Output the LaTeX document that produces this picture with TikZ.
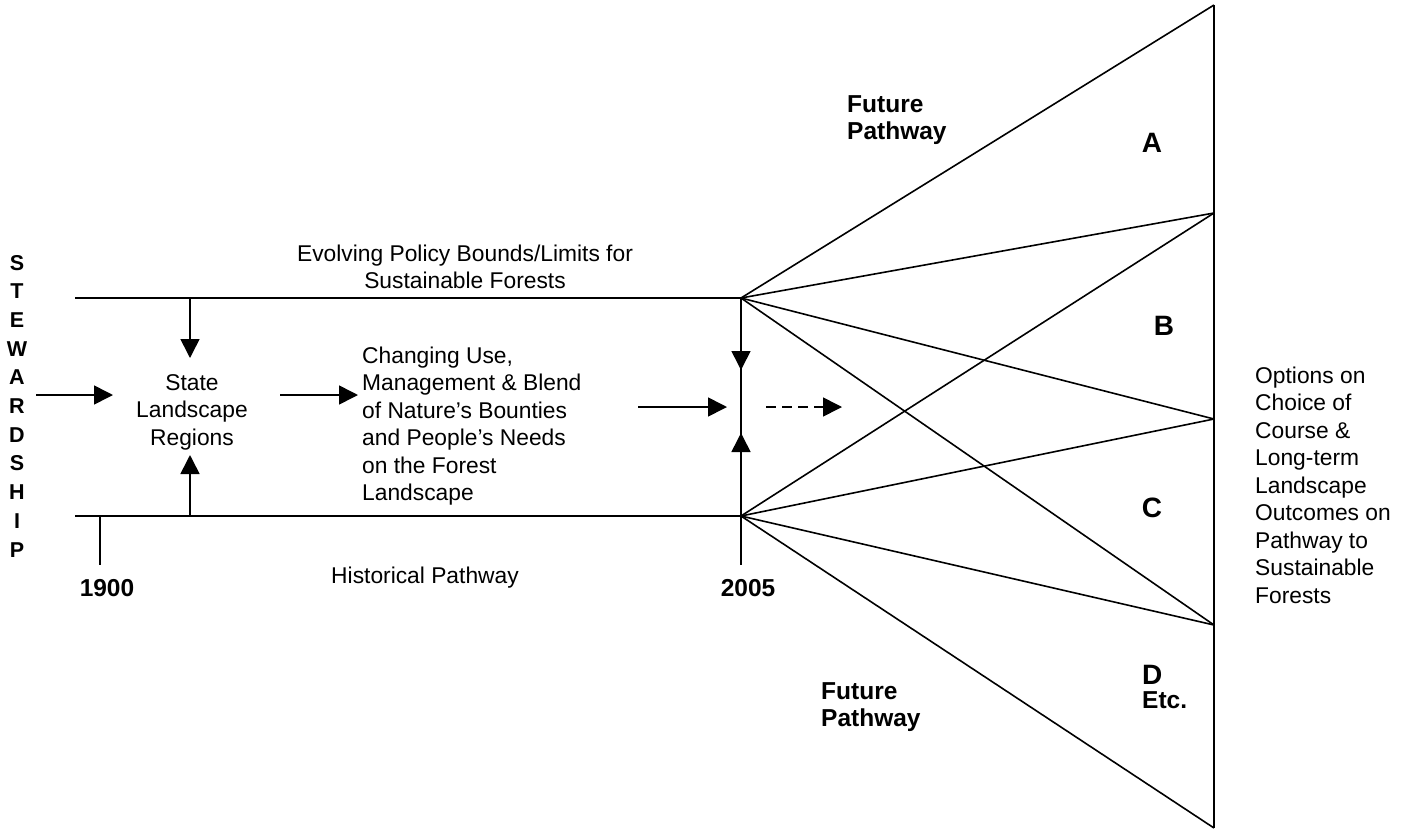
\documentclass[tikz,border=0pt]{standalone}
\usepackage{fontspec}
\setmainfont{Liberation Sans}
\usetikzlibrary{arrows.meta}
\tikzset{
  ln/.style={line width=1.6pt, black},
  arr/.style={ln, -{Triangle[length=19pt,width=19pt]}},
  txt/.style={font=\fontsize{22.8}{27.5}\selectfont, inner sep=0pt},
  btxt/.style={font=\fontsize{24.5}{27.5}\selectfont\bfseries, inner sep=0pt},
  letter/.style={font=\fontsize{28}{30}\selectfont\bfseries, inner sep=0pt},
}
\begin{document}
\begin{tikzpicture}[x=1pt,y=-1pt]
\useasboundingbox (0,0) rectangle (1413,830);
% key coordinates
\coordinate (tl) at (75,298);
\coordinate (tr) at (741,298);
\coordinate (bl) at (75,516);
\coordinate (br) at (741,516);
\coordinate (r0) at (1214,5);
\coordinate (r1) at (1214,213);
\coordinate (r2) at (1214,419);
\coordinate (r3) at (1214,625);
\coordinate (r4) at (1214,828);
\coordinate (t1900) at (100,565);
\coordinate (t2005) at (741,565);
% main lines
\draw[ln] (tl) -- (tr);
\draw[ln] (bl) -- (br);
\draw[ln] (t1900 |- bl) -- (t1900);
\draw[ln] (tr) -- (t2005);
% fan
\draw[ln] (r0) -- (r4);
\draw[ln] (tr) -- (r0);
\draw[ln] (tr) -- (r1);
\draw[ln] (tr) -- (r2);
\draw[ln] (tr) -- (r3);
\draw[ln] (br) -- (r1);
\draw[ln] (br) -- (r2);
\draw[ln] (br) -- (r3);
\draw[ln] (br) -- (r4);
% texts
\node[align=center, inner sep=0pt, font=\fontsize{21.5}{28.7}\selectfont\bfseries] (stew) at (17,406) {S\\T\\E\\W\\A\\R\\D\\S\\H\\I\\P};
\node[txt, align=center] (slr) at (192,412) {State\\Landscape\\Regions};
\node[txt, align=left, anchor=west] (chg) at (362,426) {Changing Use,\\Management \& Blend\\of Nature’s Bounties\\and People’s Needs\\on the Forest\\Landscape};
\node[txt, align=center] (evo) at (465,267) {Evolving Policy Bounds/Limits for\\Sustainable Forests};
\node[txt] (hist) at (425,578) {Historical Pathway};
\node[btxt] (y1900) at (107,588) {1900};
\node[btxt] (y2005) at (748,588) {2005};
\node[btxt, align=left, anchor=west] (fp1) at (847,120) {Future\\Pathway};
\node[btxt, align=left, anchor=west] (fp2) at (821,707) {Future\\Pathway};
\node[letter] (la) at (1152,143) {A};
\node[letter] (lb) at (1164,326) {B};
\node[letter] (lc) at (1152,508) {C};
\node[letter, anchor=west] (ld) at (1142,675) {D};
\node[btxt, anchor=west] (etc) at (1142,700) {Etc.};
\node[txt, align=left, anchor=west] (opt) at (1255,485) {Options on\\Choice of\\Course \&\\Long-term\\Landscape\\Outcomes on\\Pathway to\\Sustainable\\Forests};
% arrows
\coordinate (sa) at (36,395);
\coordinate (sb) at (113,395);
\draw[arr] (sa) -- (sb);
\coordinate (da) at (190,298);
\coordinate (db) at (190,358);
\draw[arr] (da) -- (db);
\coordinate (ua) at (190,516);
\coordinate (ub) at (190,455);
\draw[arr] (ua) -- (ub);
\coordinate (ma) at (280,395);
\coordinate (mb) at (358,395);
\draw[arr] (ma) -- (mb);
\coordinate (na) at (638,407);
\coordinate (nb) at (727,407);
\draw[arr] (na) -- (nb);
\coordinate (va) at (741,310);
\coordinate (vb) at (741,370);
\draw[arr] (va) -- (vb);
\coordinate (wa) at (741,505);
\coordinate (wb) at (741,433);
\draw[arr] (wa) -- (wb);
\coordinate (ka) at (766,407);
\coordinate (kb) at (842,407);
\draw[arr, dash pattern=on 10pt off 6pt] (ka) -- (kb);
\end{tikzpicture}
\end{document}
